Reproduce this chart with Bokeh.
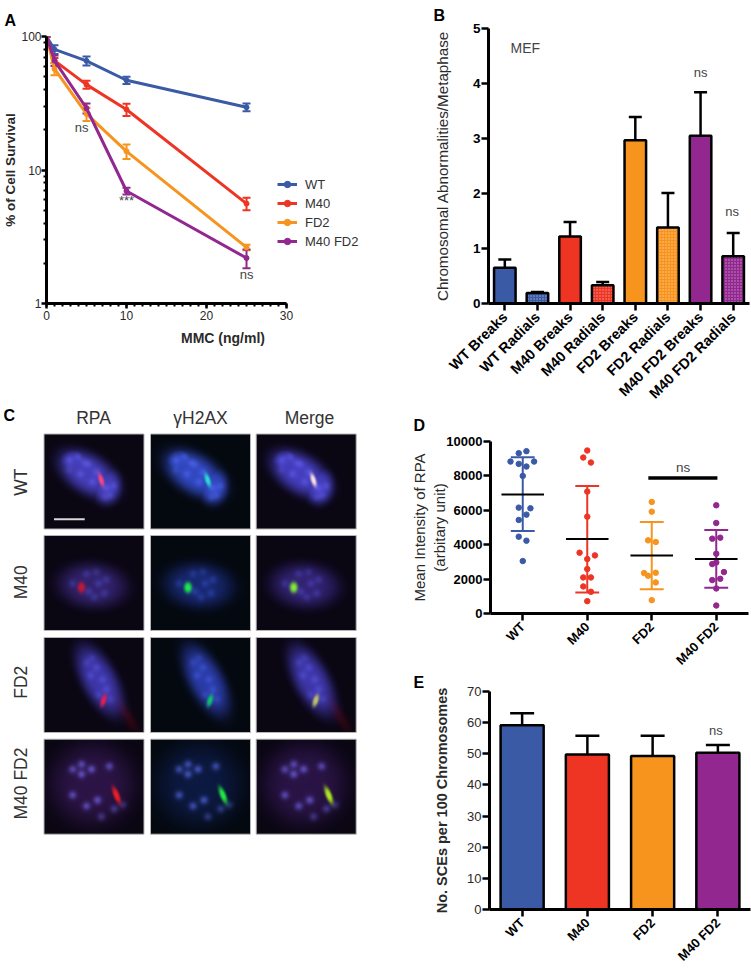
import math
import numpy as np
from bokeh.plotting import figure
from bokeh.layouts import row, column
from bokeh.models import (ColumnDataSource, Whisker, TeeHead, Label, Legend, LegendItem, FactorRange, Range1d,
                          FixedTicker, NumeralTickFormatter, Title)
from bokeh.core.properties import value
from bokeh.embed import file_html
from bokeh.resources import INLINE

BLUE, RED, ORANGE, PURPLE = "#3B5AA6", "#EE3524", "#F7941D", "#92278F"
FONT = "Liberation Sans"
DARK = "#2a2a2a"

# ---- Panel A
doses = [0, 1, 5, 10, 25]
a_names = ["WT", "M40", "FD2", "M40 FD2"]
a_wt = [100, 80, 65.7, 47, 29.5]
a_wt_err = [0, 6, 5, 3, 2]
a_m40 = [100, 66, 43.6, 28.4, 5.6]
a_m40_err = [0, 3, 3, 3, 0.6]
a_fd2 = [100, 57.2, 26.3, 13.8, 2.63]
a_fd2_err = [0, 6, 3, 1.7, 0.12]
a_dko = [100, 66, 29, 6.96, 2.19]
a_dko_err = [0, 6, 2.5, 0.4, 0.35]
a_y_major = [1, 10, 100]
a_y_minor = [2, 3, 4, 5, 6, 7, 8, 9, 20, 30, 40, 50, 60, 70, 80, 90]
a_x_major = [0, 10, 20, 30]
a_x_minor = list(range(0, 31))

# ---- Panel B
b_cats = ["WT Breaks", "WT Radials", "M40 Breaks", "M40 Radials", "FD2 Breaks", "FD2 Radials", "M40 FD2 Breaks", "M40 FD2 Radials"]
b_vals = [0.65, 0.19, 1.22, 0.33, 2.97, 1.38, 3.05, 0.86]
b_upper = [0.80, 0.21, 1.48, 0.39, 3.39, 2.01, 3.84, 1.28]
b_colors = [BLUE, BLUE, RED, RED, ORANGE, ORANGE, PURPLE, PURPLE]
b_hatch = ["blank", "dot", "blank", "dot", "blank", "dot", "blank", "dot"]

# ---- Panel D
d_cats = ["WT", "M40", "FD2", "M40 FD2"]
d_colors = [BLUE, RED, ORANGE, PURPLE]
d_wt = [9437, 9320, 8835, 8835, 8699, 8544, 8000, 6155, 6117, 5748, 5437, 4466, 4233, 3049]
d_wt_off = [.057, -.062, -.19, .176, -.062, .057, 0, -.062, .119, .057, -.062, -.062, .057, 0]
d_m40 = [9476, 9068, 8777, 7087, 5631, 3534, 3379, 3165, 2583, 2097, 2097, 1573, 1262, 718]
d_m40_off = [0, -.062, .057, 0, 0, -.119, .119, 0, 0, -.062, .057, -.062, .057, 0]
d_fd2 = [6485, 5922, 4252, 4155, 2350, 2194, 2369, 1806, 777]
d_fd2_off = [0, 0, -.057, .062, -.119, -.057, .062, .062, 0]
d_dko = [6291, 5262, 4350, 4408, 3476, 2874, 2971, 2408, 1942, 2019, 1456, 466]
d_dko_off = [0, 0, -.062, .062, 0, -.062, 0, .119, -.062, .062, 0, 0]
d_mean = [6913, 4330, 3379, 3165]
d_sd_hi = [9087, 7417, 5320, 4854]
d_sd_lo = [4796, 1223, 1417, 1495]

# ---- Panel E
e_cats = ["WT", "M40", "FD2", "M40 FD2"]
e_vals = [59.2, 49.8, 49.3, 50.3]
e_upper = [63.05, 55.8, 55.8, 52.8]
e_colors = [BLUE, RED, ORANGE, PURPLE]

# ---- Panel C (micrograph sketches: panel-local px)
c_cols = ["RPA", "\u03b3H2AX", "Merge"]
c_rows = ["WT", "M40", "FD2", "M40 FD2"]
c_col_left = [43.5, 150, 255.7]
c_row_top = [433.5, 535, 637, 738.7]
c_nuclei = [
    [(44, 40, 33, 19, 32), (30, 28, 15, 12, 10), (62, 52, 15, 18, 0)],
    [(48, 50, 34, 22, 5)],
    [(55, 43, 38, 17, 62)],
    [(48, 45, 42, 41, 0)],
]
c_nuc_color = [[(58, 55, 165), (45, 62, 175), (58, 55, 170)],
               [(40, 28, 90), (20, 30, 95), (40, 28, 95)],
               [(52, 48, 150), (38, 50, 150), (52, 48, 150)],
               [(34, 14, 52), (8, 16, 48), (32, 14, 52)]]
c_spots = [
    [(25, 26), (34, 22), (44, 30), (24, 36), (36, 40), (52, 38), (62, 54), (66, 62), (60, 64), (48, 48), (40, 28), (70, 52)],
    [(42, 38), (52, 36), (28, 48), (62, 44), (50, 62), (60, 58), (44, 56), (54, 48)],
    [(42, 25), (52, 30), (46, 38), (58, 42), (62, 52), (48, 20), (66, 62), (54, 58)],
    [(37, 25), (47, 30), (65, 27), (37, 35), (28, 56), (42, 67), (53, 61), (79, 66), (57, 78), (28, 30), (70, 70)],
]
c_spot_gain = [(16, 18, 30), (14, 20, 45), (14, 18, 32), (50, 55, 115)]
c_foci = [
    (56.7, 46, 2.6, 7, -18),
    (37, 52, 4, 5.5, 0),
    (59, 63, 2.8, 6.5, 18),
    (72, 56, 3, 9, -22),
]
c_foci_color = [[(245, 70, 135), (40, 225, 215), (255, 225, 225)],
                [(190, 25, 60), (30, 235, 80), (130, 235, 60)],
                [(225, 30, 85), (15, 195, 110), (195, 195, 105)],
                [(235, 30, 40), (35, 235, 70), (175, 235, 35)]]
c_bg = [(10, 6, 18), (4, 9, 16), (10, 6, 18)]


def blob(xx, yy, cx, cy, rx, ry, ang):
    t = math.radians(ang)
    u = (xx - cx) * math.cos(t) + (yy - cy) * math.sin(t)
    v = -(xx - cx) * math.sin(t) + (yy - cy) * math.cos(t)
    return (u / rx) ** 2 + (v / ry) ** 2


def cell_image(r, c):
    s = 2
    yy, xx = np.mgrid[0:95 * s, 0:100 * s] / s
    img = np.zeros(xx.shape + (3,))
    mask = np.zeros(xx.shape)
    for e in c_nuclei[r]:
        mask = np.maximum(mask, np.exp(-blob(xx, yy, *e) ** 2))
    spots = np.zeros(xx.shape)
    for (cx, cy) in c_spots[r]:
        spots += np.exp(-blob(xx, yy, cx, cy, 4.0, 4.0, 0))
    focus = np.exp(-blob(xx, yy, *c_foci[r]) ** 1.5)
    for k in range(3):
        img[..., k] = c_bg[c][k] + mask * c_nuc_color[r][c][k] + mask * spots * c_spot_gain[r][k]
        img[..., k] = img[..., k] * (1 - focus) + focus * c_foci_color[r][c][k]
    if r == 2 and c != 1:
        tail = np.exp(-blob(xx, yy, 84, 80, 18, 5, 60))
        img[..., 0] += 35 * tail
    out = np.zeros(xx.shape, dtype=np.uint32)
    v = out.view(dtype=np.uint8).reshape(xx.shape + (4,))
    v[..., :3] = np.clip(img, 0, 255).astype(np.uint8)
    v[..., 3] = 255
    return out[::-1]


def style_axis(ax, size, bold, out=6, lw=3):
    ax.axis_line_width = lw
    ax.axis_line_color = "black"
    ax.major_tick_line_width = lw - 0.5
    ax.major_tick_line_color = "black"
    ax.major_tick_in = 0
    ax.major_tick_out = out
    ax.minor_tick_line_color = None
    ax.major_label_text_font = FONT
    ax.major_label_text_font_size = f"{size}px"
    ax.major_label_text_font_style = "bold" if bold else "normal"
    ax.major_label_text_color = "black" if bold else DARK
    ax.axis_label_text_font = FONT


def panel_title(p, txt, offset, standoff):
    p.add_layout(Title(text=txt, align="left", offset=offset, standoff=standoff, text_font=FONT,
                       text_font_style="bold", text_font_size="16px", text_color="black"), "above")


def note(p, x, y, txt, size=13):
    p.text([x], [y], text=[txt], text_font=value(FONT), text_font_size=f"{size}px", text_color="#444444",
           text_align="center", text_baseline="middle")


def base_fig(w, h, l, r, t, b, **kw):
    p = figure(width=w, height=h, min_border_left=l, min_border_right=r, min_border_top=t, min_border_bottom=b,
               toolbar_location=None, output_backend="svg", frame_align=False, **kw)
    p.outline_line_color = None
    p.grid.visible = False
    p.background_fill_color = None
    p.border_fill_color = None
    return p


# ================= A  (frame runs on to the right edge so the legend sits inside; the axis stops at 30)
A = base_fig(400, 385, 45, 1, 36, 82, x_range=Range1d(0, 44.12), y_range=Range1d(1, 100), y_axis_type="log")
series = [(a_wt, a_wt_err, BLUE), (a_m40, a_m40_err, RED), (a_fd2, a_fd2_err, ORANGE), (a_dko, a_dko_err, PURPLE)]
items = []
for name, (vals, err, col) in zip(a_names, series):
    ln = A.line(doses, vals, line_color=col, line_width=3)
    mk = A.scatter(doses, vals, size=5, color=col)
    src = ColumnDataSource(dict(x=doses, lo=[v - e for v, e in zip(vals, err)], hi=[v + e for v, e in zip(vals, err)]))
    A.add_layout(Whisker(source=src, base="x", lower="lo", upper="hi", line_color=col, line_width=2,
                         lower_head=TeeHead(size=8, line_color=col, line_width=2),
                         upper_head=TeeHead(size=8, line_color=col, line_width=2)))
    items.append(LegendItem(label=name, renderers=[ln, mk]))
leg = Legend(items=items, location=(231, 54), orientation="vertical", background_fill_alpha=0, border_line_color=None,
             padding=0, margin=0, glyph_width=20, glyph_height=16, label_height=16, spacing=3, label_standoff=8,
             label_text_font=FONT, label_text_font_size="13px", label_text_color="#333333")
A.add_layout(leg, "center")
xa, ya = A.xaxis[0], A.yaxis[0]
style_axis(xa, 12, False, out=5)
style_axis(ya, 12, False, out=5)
xa.bounds = (0, 30)
xa.ticker = FixedTicker(ticks=a_x_major, minor_ticks=a_x_minor)
ya.ticker = FixedTicker(ticks=a_y_major, minor_ticks=a_y_minor)
ya.formatter = NumeralTickFormatter(format="0")
for ax in (xa, ya):
    ax.minor_tick_line_color = "black"
    ax.minor_tick_line_width = 2
    ax.minor_tick_in = 0
    ax.minor_tick_out = 3
xa.major_label_standoff = 2
ya.major_label_standoff = 0
xa.axis_label = "MMC (ng/ml)"
ya.axis_label = "% of Cell Survival"
xa.axis_label_text_font_size = "14px"
ya.axis_label_text_font_size = "13.5px"
xa.axis_label_text_font_style = ya.axis_label_text_font_style = "bold"
xa.axis_label_text_color = ya.axis_label_text_color = DARK
xa.axis_label_standoff = 7
ya.axis_label_standoff = 0
note(A, 4.4, 20.9, "ns")
note(A, 10, 5.9, "***")
note(A, 25, 1.64, "ns")
panel_title(A, "A", -42, 15)

# ================= B
B = base_fig(351, 411, 88, 2, 28, 108, x_range=FactorRange(factors=b_cats, range_padding=0), y_range=Range1d(0, 5))
B.x_range.factor_padding = 0
bsrc = ColumnDataSource(dict(x=b_cats, top=b_vals, up=b_upper, c=b_colors, h=b_hatch))
B.add_layout(Whisker(source=bsrc, base="x", lower="top", upper="up", line_color="black", line_width=2.5, lower_head=None,
                     upper_head=TeeHead(size=13, line_color="black", line_width=2.5)))
B.vbar(x="x", top="top", bottom=0, width=0.66, source=bsrc, fill_color="c", line_color="black", line_width=2.5,
       hatch_pattern="h", hatch_color="white", hatch_alpha=0.5, hatch_scale=3, hatch_weight=1)
xa, ya = B.xaxis[0], B.yaxis[0]
style_axis(xa, 14.5, True, out=7)
style_axis(ya, 13.5, True, out=7)
xa.major_label_orientation = math.pi / 4
xa.major_label_standoff = 4
ya.ticker = FixedTicker(ticks=[0, 1, 2, 3, 4, 5])
ya.major_label_standoff = 1
ya.axis_label = "Chromosomal Abnormalities/Metaphase"
ya.axis_label_text_font_size = "15.2px"
ya.axis_label_text_font_style = "normal"
ya.axis_label_text_color = DARK
ya.axis_label_standoff = 19
B.text([1.13], [4.64], text=["MEF"], text_font=value(FONT), text_font_size="14px", text_color="#444444",
       text_align="center", text_baseline="middle")
note(B, 6.5, 4.2, "ns")
note(B, 7.47, 1.67, "ns")
panel_title(B, "B", -55, 9)

# ================= D
D = base_fig(351, 272, 90, 3, 38, 62, x_range=FactorRange(factors=d_cats, range_padding=0), y_range=Range1d(0, 10000),
             margin=(-8, 0, 0, 0))
D.x_range.factor_padding = 0
for i, (vals, off, col) in enumerate(zip([d_wt, d_m40, d_fd2, d_dko], [d_wt_off, d_m40_off, d_fd2_off, d_dko_off], d_colors)):
    cx = i + 0.5
    D.segment([cx], [d_sd_lo[i]], [cx], [d_sd_hi[i]], line_color=col, line_width=2)
    D.segment([cx - 0.185, cx - 0.185], [d_sd_lo[i], d_sd_hi[i]], [cx + 0.185, cx + 0.185], [d_sd_lo[i], d_sd_hi[i]], line_color=col, line_width=2)
    D.scatter([cx + o for o in off], vals, size=5.5, color=col)
    D.segment([cx - 0.33], [d_mean[i]], [cx + 0.33], [d_mean[i]], line_color="black", line_width=2)
D.segment([2.447], [7883], [3.518], [7883], line_color="black", line_width=3.5)
note(D, 2.985, 8505, "ns", 13.5)
xa, ya = D.xaxis[0], D.yaxis[0]
style_axis(xa, 13, True, out=7)
style_axis(ya, 13, True, out=7)
xa.major_label_orientation = math.pi / 4
xa.major_label_standoff = 4
ya.ticker = FixedTicker(ticks=[0, 2000, 4000, 6000, 8000, 10000])
ya.major_label_standoff = 1
ya.axis_label = "Mean Intensity of RPA\n(arbitary unit)"
ya.axis_label_text_font_size = "15px"
ya.axis_label_text_font_style = "normal"
ya.axis_label_text_color = DARK
ya.axis_label_standoff = -5
panel_title(D, "D", -77, 15)

# ================= E
E = base_fig(351, 300, 89, 1, 20, 62, x_range=FactorRange(factors=e_cats, range_padding=0), y_range=Range1d(0, 70),
             margin=(-4, 0, -2, 0))
E.x_range.factor_padding = 0
esrc = ColumnDataSource(dict(x=e_cats, top=e_vals, up=e_upper, c=e_colors))
E.add_layout(Whisker(source=esrc, base="x", lower="top", upper="up", line_color="black", line_width=2.5, lower_head=None,
                     upper_head=TeeHead(size=24, line_color="black", line_width=2.5)))
E.vbar(x="x", top="top", bottom=0, width=0.66, source=esrc, fill_color="c", line_color="black", line_width=2.5)
xa, ya = E.xaxis[0], E.yaxis[0]
style_axis(xa, 13, True, out=7)
style_axis(ya, 13, False, out=7)
xa.major_label_orientation = math.pi / 4
xa.major_label_standoff = 4
ya.ticker = FixedTicker(ticks=[0, 10, 20, 30, 40, 50, 60, 70])
ya.major_label_standoff = 1
ya.axis_label = "No. SCEs per 100 Chromosomes"
ya.axis_label_text_font_size = "14.5px"
ya.axis_label_text_font_style = "bold"
ya.axis_label_text_color = DARK
ya.axis_label_standoff = 14
note(E, 3.47, 57.4, "ns")
panel_title(E, "E", -76, 1)

# ================= C (y data = 969 - page y)
C = base_fig(400, 584, 0, 0, 0, 0, x_range=Range1d(0, 400), y_range=Range1d(0, 584))
C.axis.visible = False
for r, top in enumerate(c_row_top):
    for c, left in enumerate(c_col_left):
        yb = 969 - (top + 95)
        C.image_rgba(image=[cell_image(r, c)], x=[left], y=[yb], dw=[100], dh=[95])
        C.quad(left=[left], right=[left + 100], top=[yb + 95], bottom=[yb], fill_color=None, line_color="#b5b5b5", line_width=1)
C.segment([53.5], [969 - 518.7], [84.2], [969 - 518.7], line_color="#d8d8d8", line_width=2)
for txt, cx in zip(c_cols, [93, 200, 309]):
    C.text([cx], [969 - 417], text=[txt], text_font=value(FONT), text_font_size="17.5px", text_color="#333333",
           text_align="center", text_baseline="middle")
for txt, cy in zip(c_rows, [481.7, 581.7, 681.7, 783]):
    C.text([20], [969 - cy], text=[txt], angle=math.pi / 2, text_font=value(FONT), text_font_size="17.5px", text_color="#333333",
           text_align="center", text_baseline="middle")
C.add_layout(Label(x=3, y=584 - 21, x_units="screen", y_units="screen", text="C", text_font=FONT, text_font_style="bold",
                   text_font_size="16px", text_color="black", text_baseline="top", text_align="left"))

page = row(column(A, C, spacing=0), column(B, D, E, spacing=0), spacing=0)
open("out.html", "w").write(file_html(page, INLINE))
